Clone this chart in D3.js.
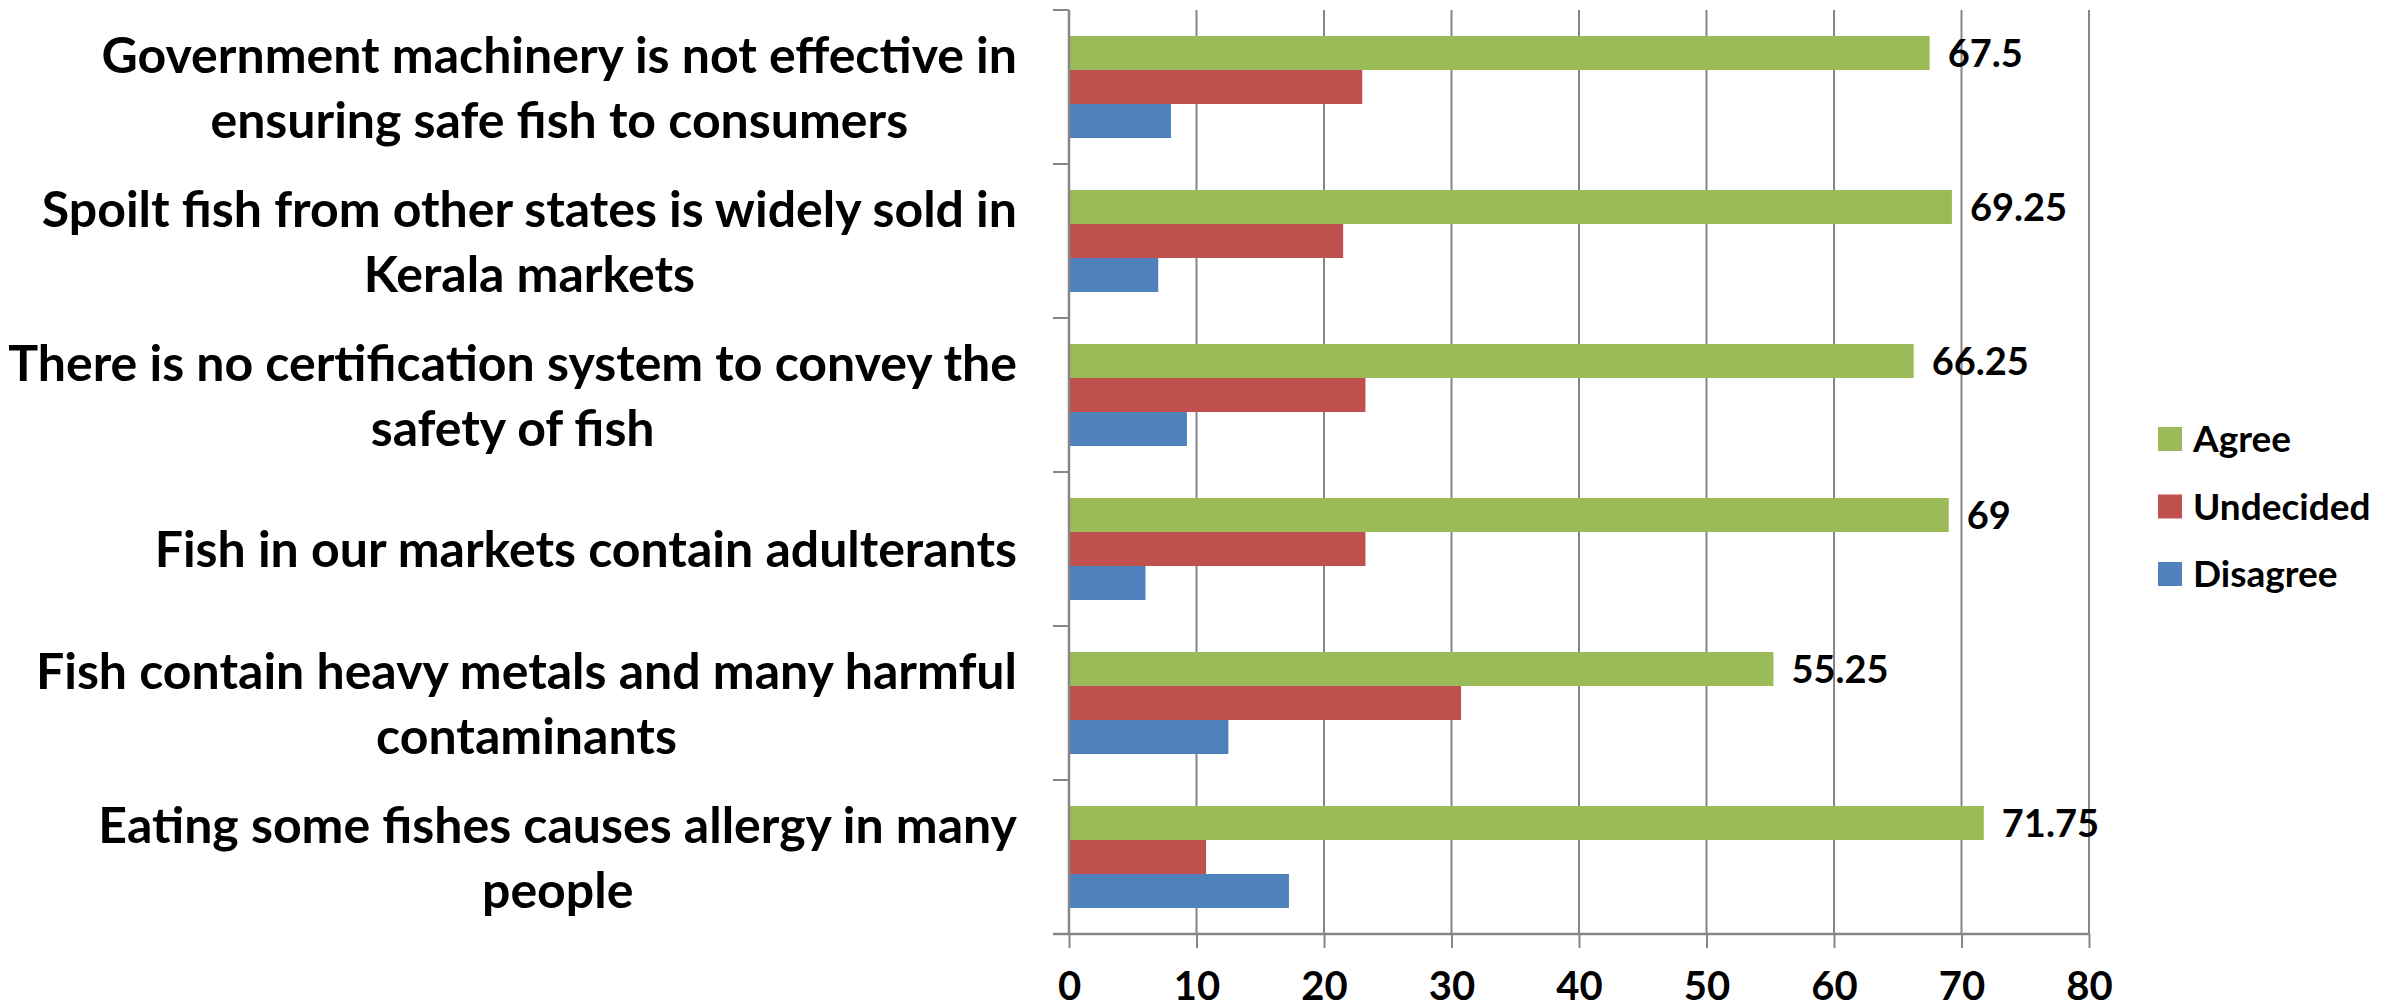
<!DOCTYPE html>
<html>
<head>
<meta charset="utf-8">
<script src="https://cdn.jsdelivr.net/npm/d3@7"></script>
<style>
  body { margin: 0; background: #fff; }
  text { font-family: Lato, "Open Sans", sans-serif; font-weight: bold; fill: #000; }
</style>
</head>
<body>
<div id="chart"></div>
<script>
// data, top to bottom as drawn
var categories = [
  "Government machinery is not effective in ensuring safe fish to consumers",
  "Spoilt fish from other states is widely sold in Kerala markets",
  "There is no certification system to convey the safety of fish",
  "Fish in our markets contain adulterants",
  "Fish contain heavy metals and many harmful contaminants",
  "Eating some fishes causes allergy in many people"
]
var labelLines = [
  ["Government machinery is not effective in", "ensuring safe fish to consumers"],
  ["Spoilt fish from other states is widely sold in", "Kerala markets"],
  ["There is no certification system to convey the", "safety of fish"],
  ["Fish in our markets contain adulterants"],
  ["Fish contain heavy metals and many harmful", "contaminants"],
  ["Eating some fishes causes allergy in many", "people"]
]
var series = ["Agree", "Undecided", "Disagree"]
var agree = [67.5, 69.25, 66.25, 69, 55.25, 71.75]
var undecided = [23, 21.5, 23.25, 23.25, 30.75, 10.75]
var disagree = [8, 7, 9.25, 6, 12.5, 17.25]
var xTicks = [0, 10, 20, 30, 40, 50, 60, 70, 80]

var values = {Agree: agree, Undecided: undecided, Disagree: disagree}
var colors = {Agree: "#9BBB59", Undecided: "#C0504D", Disagree: "#4F81BD"}

var width = 2407,
    height = 1008,
    plotLeft = 1069, plotRight = 2089, plotTop = 10, plotBottom = 934

var svg = d3.select("#chart")
  .append("svg")
    .attr("width", width)
    .attr("height", height)

// scales
var x = d3.scaleLinear().domain([0, 80]).range([plotLeft, plotRight])
var y0 = d3.scaleBand().domain(categories).range([plotTop, plotBottom]).padding(0)
var y1 = d3.scaleBand().domain(series).range([0, y0.bandwidth()]).paddingInner(0).paddingOuter(0.765)

var grey = "#868686"

// vertical gridlines
svg.selectAll("gridlines")
  .data(xTicks.slice(1))
  .enter()
  .append("line")
    .attr("x1", function(d) { return x(d) })
    .attr("x2", function(d) { return x(d) })
    .attr("y1", plotTop)
    .attr("y2", plotBottom)
    .attr("stroke", grey)
    .attr("stroke-width", 2)

// bars
categories.forEach(function(c, i) {
  svg.selectAll("bars" + i)
    .data(series)
    .enter()
    .append("rect")
      .attr("x", x(0))
      .attr("y", function(s) { return y0(c) + y1(s) })
      .attr("width", function(s) { return x(values[s][i]) - x(0) })
      .attr("height", y1.bandwidth())
      .attr("fill", function(s) { return colors[s] })
})

// x axis
var xAxis = svg.append("g")
  .attr("transform", "translate(0," + plotBottom + ")")
  .call(d3.axisBottom(x).tickValues(xTicks).tickSize(14).tickPadding(24))
xAxis.select(".domain").attr("stroke", grey).attr("stroke-width", 2.5)
  .attr("d", "M" + (plotLeft - 16) + ",0H" + plotRight)
xAxis.selectAll(".tick line").attr("stroke", grey).attr("stroke-width", 2)
xAxis.selectAll(".tick text")
  .style("font-family", "Lato, sans-serif")
  .style("font-weight", "bold")
  .style("font-size", "40px")
  .attr("fill", "#000")

// y axis line and category ticks
svg.append("line")
  .attr("x1", plotLeft).attr("x2", plotLeft)
  .attr("y1", plotTop).attr("y2", plotBottom)
  .attr("stroke", grey).attr("stroke-width", 2.5)
var yTicks = y0.domain().map(function(d) { return y0(d) }).concat([plotBottom])
svg.selectAll("ytick")
  .data(yTicks)
  .enter()
  .append("line")
    .attr("x1", plotLeft - 16).attr("x2", plotLeft)
    .attr("y1", function(d) { return d }).attr("y2", function(d) { return d })
    .attr("stroke", grey).attr("stroke-width", 2)

// category labels, lines centred on each other, block right-aligned
var labelRight = 1017, lineGap = 65
categories.forEach(function(c, i) {
  var g = svg.append("g")
  var lines = labelLines[i]
  var mid = y0(c) + y0.bandwidth() / 2
  var texts = g.selectAll("text")
    .data(lines)
    .enter()
    .append("text")
      .attr("y", function(d, j) { return mid + (j - (lines.length - 1) / 2) * lineGap })
      .attr("dy", "0.36em")
      .style("font-size", "50px")
      .text(function(d) { return d })
  var w = d3.max(texts.nodes(), function(n) { return n.getComputedTextLength() })
  texts.attr("x", labelRight - w / 2).attr("text-anchor", "middle")
})

// data labels on Agree bars
svg.selectAll("datalabels")
  .data(agree)
  .enter()
  .append("text")
    .attr("x", function(d) { return x(d) + 18 })
    .attr("y", function(d, i) { return y0(categories[i]) + y1("Agree") + y1.bandwidth() / 2 })
    .attr("dy", "0.36em")
    .style("font-size", "38px")
    .text(function(d) { return d })

// legend
var legend = svg.selectAll("legend")
  .data(series)
  .enter()
  .append("g")
    .attr("transform", function(d, i) { return "translate(2158," + (427 + i * 67.5) + ")" })
legend.append("rect")
  .attr("width", 24).attr("height", 24)
  .attr("fill", function(d) { return colors[d] })
legend.append("text")
  .attr("x", 35).attr("y", 12).attr("dy", "0.36em")
  .style("font-size", "37px")
  .text(function(d) { return d })
</script>
</body>
</html>
